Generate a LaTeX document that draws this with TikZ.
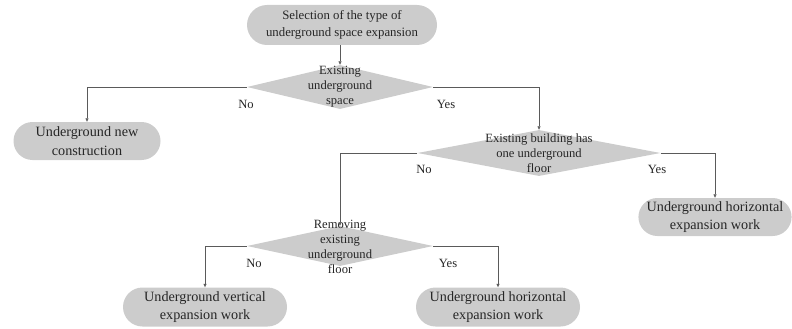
\documentclass[tikz,border=0pt]{standalone}
\usepackage{fontspec}
\setmainfont{Liberation Serif}
\usetikzlibrary{shapes.misc,shapes.geometric,arrows.meta}
\definecolor{boxgray}{RGB}{204,204,204}
\definecolor{linegray}{RGB}{90,90,90}
\tikzset{
  term/.style={rounded rectangle, fill=boxgray, draw=none, inner sep=0pt, align=center, text=black!85},
  bigterm/.style={term, font=\fontsize{14.2}{18.5}\selectfont},
  dia/.style={diamond, fill=boxgray, draw=none, inner sep=0pt},
  diatext/.style={align=center, font=\fontsize{12.6}{15}\selectfont, text=black!85},
  conn/.style={draw=linegray, line width=0.6pt, -{Triangle[length=3.5pt,width=3pt]}},
  lbl/.style={font=\fontsize{12.6}{15}\selectfont, text=black!85}
}
\begin{document}
\begin{tikzpicture}[x=1pt,y=-1pt]
\useasboundingbox (0,0) rectangle (792,329);
% top terminal
\node[term, minimum width=190pt, minimum height=40pt, font=\fontsize{12.8}{17}\selectfont] (start) at (342,25) {Selection of the type of\\underground space expansion};
% diamond 1
\node[dia, minimum width=186pt, minimum height=44pt] (d1) at (340,87) {};
\node[diatext] (d1t) at (340,87) {Existing\\underground\\space};
% terminal new construction
\node[bigterm, minimum width=147pt, minimum height=38pt] (newc) at (87,141) {Underground new\\construction};
% diamond 2
\node[dia, minimum width=243pt, minimum height=46pt] (d2) at (539,153) {};
\node[diatext] (d2t) at (539,153) {Existing building has\\one underground\\floor};
% terminal right horizontal
\node[bigterm, minimum width=152pt, minimum height=38pt] (hor1) at (715,217) {Underground horizontal\\expansion work};
% diamond 3
\node[dia, minimum width=186pt, minimum height=40pt] (d3) at (340,246) {};
\node[diatext] (d3t) at (340,247) {Removing\\existing\\underground\\floor};
% bottom terminals
\node[bigterm, minimum width=164pt, minimum height=39pt] (vert) at (205,307) {Underground vertical\\expansion work};
\node[bigterm, minimum width=164pt, minimum height=39pt] (hor2) at (498,307) {Underground horizontal\\expansion work};
% connectors
\draw[conn] (d1.north |- start.south) -- (d1.north);
\draw[conn] (d1.west) -| (newc.north);
\draw[conn] (d1.east) -| (d2.north);
\draw[conn] (d2.west) -| (d3.north);
\draw[conn] (d2.east) -| (hor1.north);
\draw[conn] (d3.west) -| (vert.north);
\draw[conn] (d3.east) -| (hor2.north);
% labels
\node[lbl] (l1) at (246,104) {No};
\node[lbl] (l2) at (446,104) {Yes};
\node[lbl] (l3) at (424,169) {No};
\node[lbl] (l4) at (657,169) {Yes};
\node[lbl] (l5) at (254,263) {No};
\node[lbl] (l6) at (448,263) {Yes};
\end{tikzpicture}
\end{document}
